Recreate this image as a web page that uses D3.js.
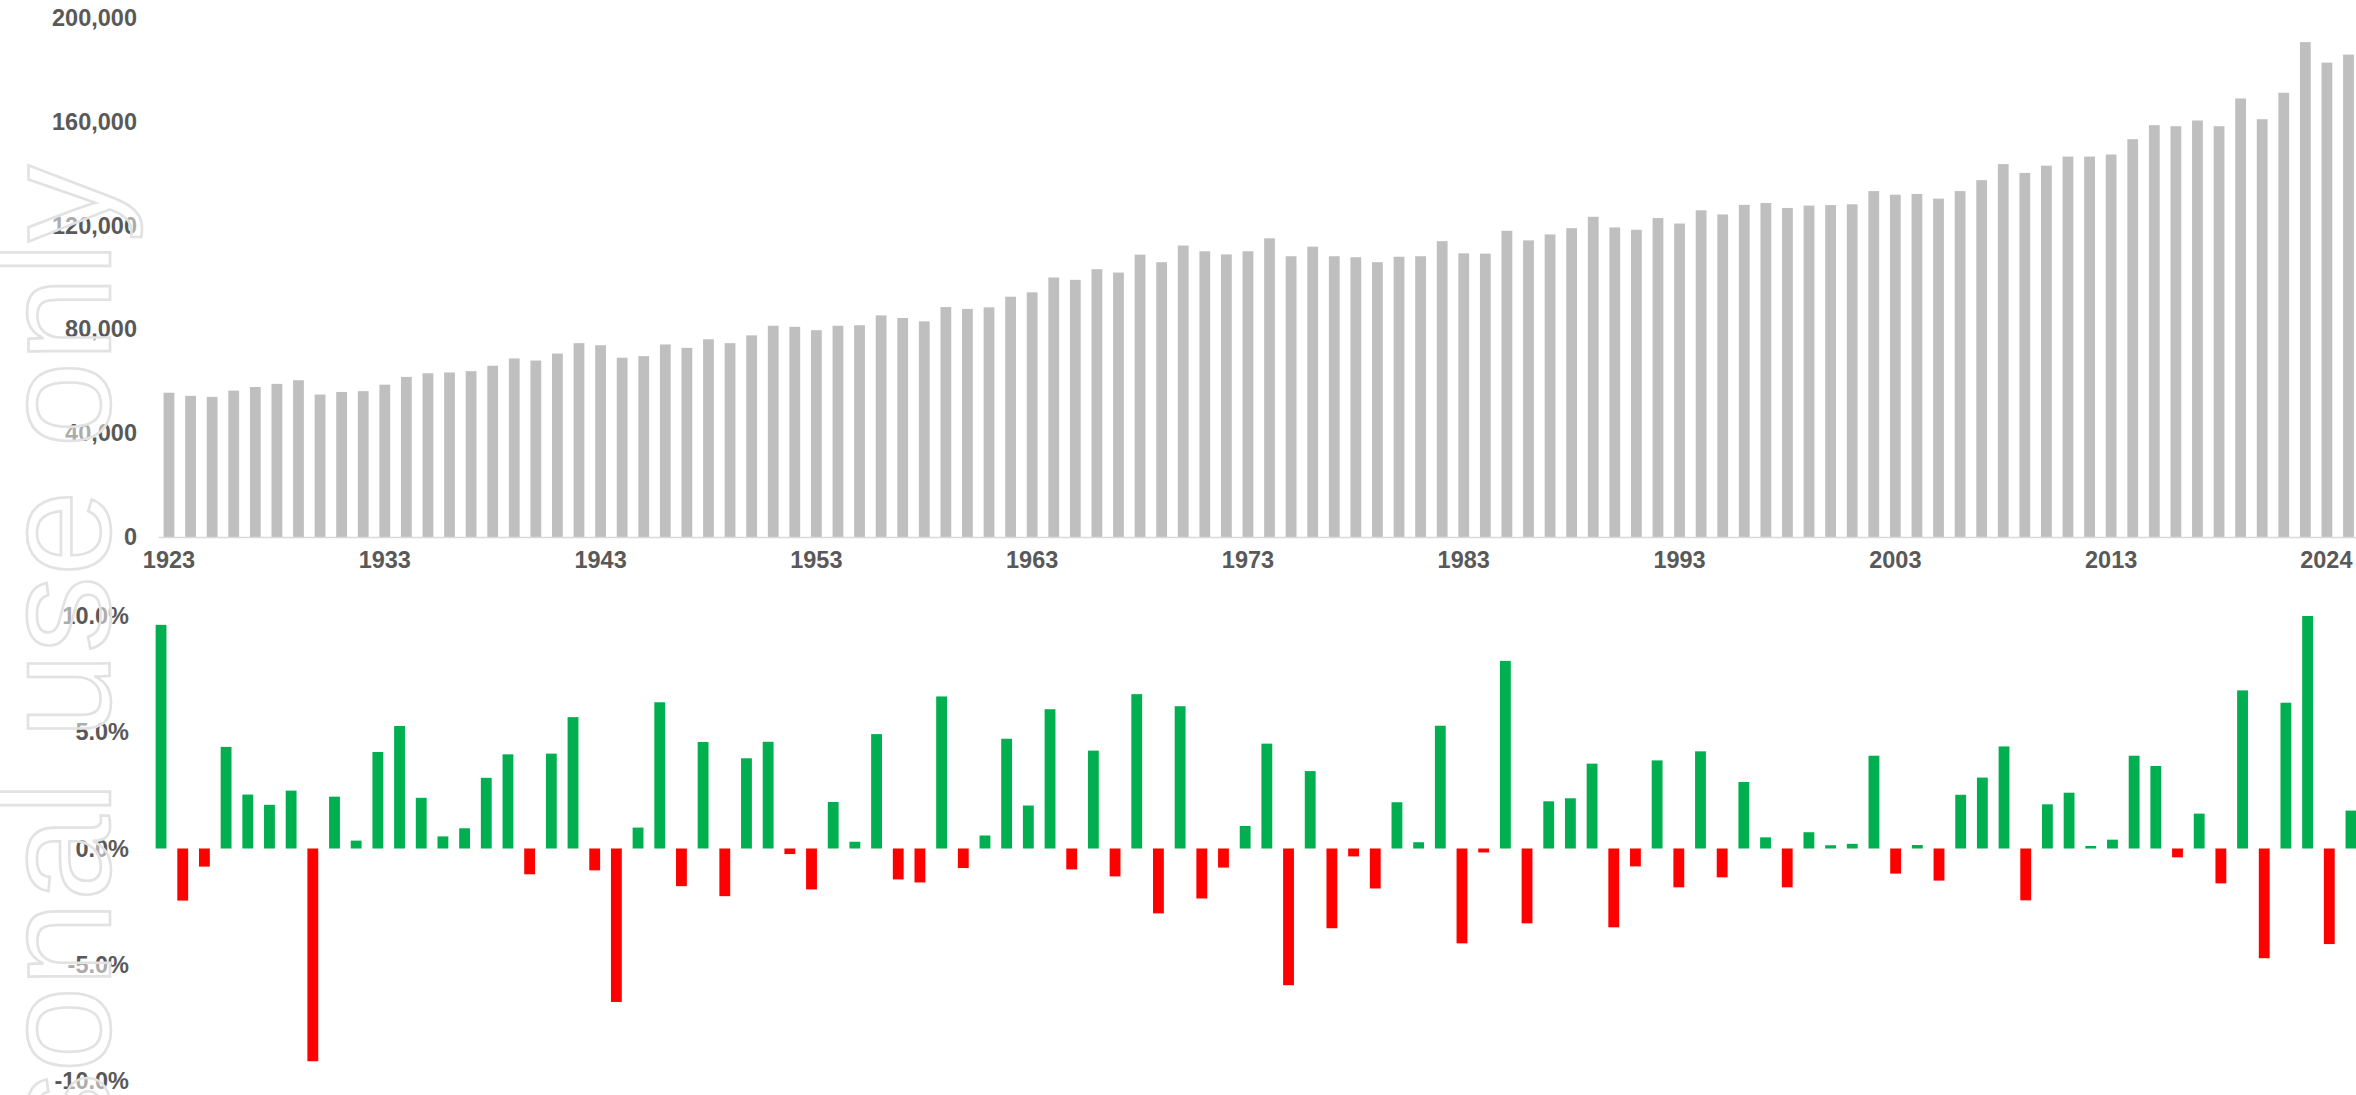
<!DOCTYPE html>
<html>
<head>
<meta charset="utf-8">
<script src="https://cdn.jsdelivr.net/npm/d3@7"></script>
<style>
	body { margin: 0; background: #ffffff; }
	.viz text { font-family: "Liberation Sans", Arial, sans-serif; }
</style>
</head>
<body>
<svg class="viz" width="2356" height="1095"></svg>
<script>
// *** Chart data ***
const years = [
	1923, 1924, 1925, 1926, 1927, 1928, 1929, 1930, 1931, 1932,
	1933, 1934, 1935, 1936, 1937, 1938, 1939, 1940, 1941, 1942,
	1943, 1944, 1945, 1946, 1947, 1948, 1949, 1950, 1951, 1952,
	1953, 1954, 1955, 1956, 1957, 1958, 1959, 1960, 1961, 1962,
	1963, 1964, 1965, 1966, 1967, 1968, 1969, 1970, 1971, 1972,
	1973, 1974, 1975, 1976, 1977, 1978, 1979, 1980, 1981, 1982,
	1983, 1984, 1985, 1986, 1987, 1988, 1989, 1990, 1991, 1992,
	1993, 1994, 1995, 1996, 1997, 1998, 1999, 2000, 2001, 2002,
	2003, 2004, 2005, 2006, 2007, 2008, 2009, 2010, 2011, 2012,
	2013, 2014, 2015, 2016, 2017, 2018, 2019, 2020, 2021, 2022,
	2023, 2024
];

// yearly totals (top chart)
const totals = [
	55600, 54400, 54000, 56400, 57800, 59000, 60400, 54900, 55900, 56200,
	58700, 61700, 63100, 63400, 63900, 66000, 68800, 68000, 70700, 74700,
	73900, 69100, 69700, 74200, 72900, 76200, 74700, 77700, 81400, 81000,
	79700, 81400, 81600, 85400, 84400, 83100, 88600, 87900, 88500, 92600,
	94300, 100000, 99100, 103200, 101900, 108800, 105900, 112300, 110100, 108900,
	110100, 115100, 108200, 111900, 108200, 107800, 105900, 108000, 108200, 114000,
	109300, 109200, 118000, 114300, 116600, 119000, 123400, 119300, 118400, 122900,
	120800, 125900, 124300, 128000, 128700, 126800, 127700, 127900, 128200, 133300,
	131900, 132200, 130400, 133300, 137500, 143700, 140300, 143100, 146600, 146600,
	147400, 153300, 158700, 158300, 160500, 158300, 169000, 161000, 171200, 190700,
	182800, 185900
];

// change on previous year, % (bottom chart)
const changes = [
	9.62, -2.24, -0.78, 4.37, 2.32, 1.88, 2.49, -9.15, 2.23, 0.34,
	4.15, 5.27, 2.18, 0.52, 0.87, 3.04, 4.05, -1.11, 4.08, 5.65,
	-0.94, -6.60, 0.90, 6.29, -1.62, 4.58, -2.05, 3.88, 4.59, -0.24,
	-1.76, 2.00, 0.29, 4.92, -1.33, -1.46, 6.54, -0.84, 0.56, 4.72,
	1.85, 5.99, -0.90, 4.21, -1.20, 6.64, -2.79, 6.12, -2.15, -0.82,
	0.97, 4.51, -5.88, 3.33, -3.43, -0.34, -1.72, 1.99, 0.27, 5.28,
	-4.08, -0.17, 8.07, -3.22, 2.03, 2.16, 3.65, -3.39, -0.77, 3.79,
	-1.67, 4.18, -1.24, 2.86, 0.48, -1.67, 0.70, 0.14, 0.20, 3.99,
	-1.08, 0.15, -1.38, 2.31, 3.05, 4.39, -2.23, 1.90, 2.40, 0.11,
	0.38, 3.99, 3.55, -0.38, 1.50, -1.50, 6.80, -4.72, 6.27, 10.00,
	-4.11, 1.63
];

const xTickYears = [1923, 1933, 1943, 1953, 1963, 1973, 1983, 1993, 2003, 2013, 2024];
const totalTicks = [0, 40000, 80000, 120000, 160000, 200000];
const changeTicks = [-10, -5, 0, 5, 10];
const watermark = "For personal use only";

function render() {
	let grph = d3.select(".viz");
	const wdth = 2356;
	const hght = 1095;
	grph.attr("viewBox", "0 0 " + wdth + " " + hght);

	const labelColor = "#595959";
	const labelSize = "23.5px";

	// *** Top chart: yearly totals ***
	let xTop = d3.scaleBand().domain(years)
		.range([158.2, 2359.3]).paddingInner(0.5).paddingOuter(0.25);
	let yTop = d3.scaleLinear().domain([0, 200000]).range([537, 18]);

	grph.append("g").attr("class", "bars-top")
		.selectAll("rect").data(years).join("rect")
		.attr("x", (d) => xTop(d))
		.attr("width", xTop.bandwidth())
		.attr("y", (d, i) => yTop(totals[i]))
		.attr("height", (d, i) => yTop(0) - yTop(totals[i]))
		.attr("fill", "#bfbfbf");

	let axTopY = grph.append("g").attr("class", "axisy-top")
		.attr("transform", "translate(137, 0)")
		.call(d3.axisLeft(yTop).tickValues(totalTicks).tickFormat(d3.format(",")).tickSize(0).tickPadding(0));
	axTopY.select(".domain").remove();

	let axTopX = grph.append("g").attr("class", "axisx-top")
		.attr("transform", "translate(0, 537)")
		.call(d3.axisBottom(xTop).tickValues(xTickYears).tickSize(0).tickPadding(14));
	axTopX.select(".domain").attr("stroke", "#d9d9d9").attr("stroke-width", 1.6);
	// last label is pushed in so it fits at the right edge
	axTopX.selectAll(".tick text")
		.filter((d) => d === years[years.length - 1])
		.attr("text-anchor", "end")
		.attr("dx", 4);

	// *** Bottom chart: change on previous year ***
	let xBot = d3.scaleBand().domain(years)
		.range([150.2, 2361.8]).paddingInner(0.5).paddingOuter(0.25);
	let yBot = d3.scaleLinear().domain([-10, 10]).range([1081, 616]);

	grph.append("g").attr("class", "bars-bottom")
		.selectAll("rect").data(years).join("rect")
		.attr("x", (d) => xBot(d))
		.attr("width", xBot.bandwidth())
		.attr("y", (d, i) => yBot(Math.max(0, changes[i])))
		.attr("height", (d, i) => Math.abs(yBot(changes[i]) - yBot(0)))
		.attr("fill", (d, i) => changes[i] >= 0 ? "#00b050" : "#ff0000");

	let axBotY = grph.append("g").attr("class", "axisy-bottom")
		.attr("transform", "translate(129, 0)")
		.call(d3.axisLeft(yBot).tickValues(changeTicks)
			.tickFormat((d) => d.toFixed(1) + "%").tickSize(0).tickPadding(0));
	axBotY.select(".domain").remove();

	grph.selectAll(".tick text")
		.attr("fill", labelColor)
		.style("font-size", labelSize)
		.style("font-weight", "bold")
		.style("font-family", "'Liberation Sans', Arial, sans-serif");

	// *** Watermark, drawn over everything ***
	grph.append("text").attr("class", "watermark")
		.attr("transform", "translate(110, 165) rotate(-90)")
		.attr("text-anchor", "end")
		.style("font-size", "154px")
		.attr("fill", "#ffffff")
		.attr("fill-opacity", 0.5)
		.attr("stroke", "#e2e2e2")
		.attr("stroke-width", 2.6)
		.text(watermark);
}

render();
</script>
</body>
</html>
